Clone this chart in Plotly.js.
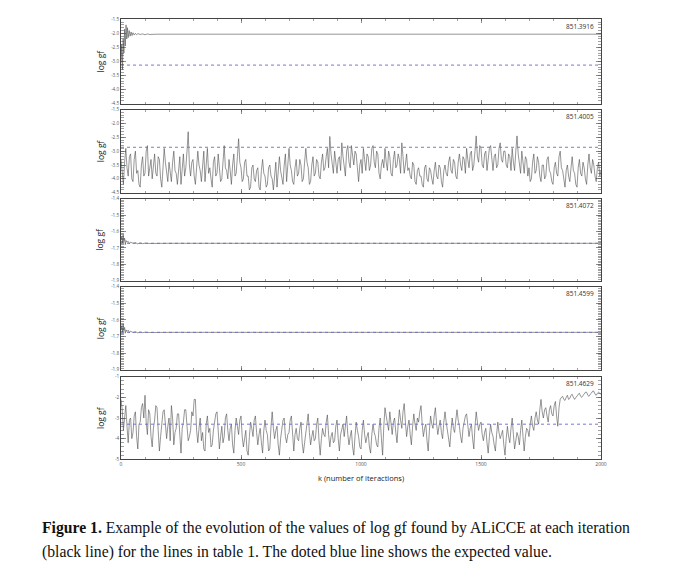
<!DOCTYPE html>
<html>
<head>
<meta charset="utf-8">
<script src="https://cdn.plot.ly/plotly-3.0.1.min.js"></script>
<style>
html,body{margin:0;padding:0;background:#fff;}
#chart{width:694px;height:584px;}
</style>
</head>
<body>
<div id="chart"></div>
<script>
// ---------- DATA ----------
const kLabels = ["0", "500", "1000", "1500", "2000"];
const kTicks = [0, 500, 1000, 1500, 2000];
const kStep = 5; // sampling step of the typed noisy series (iterations)

const lineIds = ["851.3916", "851.4005", "851.4072", "851.4599", "851.4629"];
const expected = [-3.13, -2.86, -1.672, -1.675, -3.3];

// panel 1
const p1K = [0,3,6,9,12,15,18,21,24,27,30,34,38,42,46,50,55,60,65,70,80,90,100,110,120,130,140,150,175,200,300,500,700,1000,1300,1600,2000];
const p1V = [-3.05,-2.4,-3.3,-2.2,-2.7,-1.85,-2.45,-1.7,-2.2,-1.8,-2.15,-1.9,-2.1,-1.95,-2.08,-1.98,-2.06,-2.0,-2.05,-2.01,-2.04,-2.02,-2.05,-2.02,-2.04,-2.03,-2.04,-2.03,-2.03,-2.03,-2.03,-2.03,-2.03,-2.03,-2.03,-2.03,-2.03];

// panel 2 (k = 0,5,...,2000)
const p2V = [
-3.3,-3.9,-4.2,-3.4,-2.9,-3.6,-3.9,-3.2,-3.1,-4.0,-4.1,-3.3,-3.0,-3.8,-3.7,-4.2,-4.3,-3.5,-3.2,-3.9,
-3.8,-3.0,-2.8,-3.9,-3.6,-3.3,-4.0,-3.5,-3.1,-3.8,-3.9,-3.2,-3.3,-4.0,-4.3,-3.6,-2.9,-3.4,-3.7,-4.1,
-3.4,-3.8,-4.1,-3.4,-3.0,-3.7,-3.8,-4.2,-3.5,-3.2,-4.2,-3.7,-3.1,-3.9,-3.6,-3.0,-2.3,-3.5,-3.9,-3.4,
-3.3,-3.9,-4.2,-3.6,-3.0,-3.5,-3.7,-4.1,-3.4,-3.0,-4.1,-3.5,-2.9,-3.8,-3.6,-4.0,-4.3,-3.4,-3.2,-3.9,
-3.8,-3.1,-3.5,-4.1,-4.0,-3.3,-2.8,-3.6,-3.7,-4.0,-3.3,-3.7,-4.2,-3.5,-3.1,-3.9,-3.8,-3.2,-2.55,-3.4,
-3.6,-4.1,-4.0,-3.4,-3.3,-3.9,-3.9,-4.4,-4.3,-3.6,-3.5,-4.0,-4.1,-3.7,-3.6,-4.3,-4.4,-3.7,-3.3,-3.8,
-3.9,-4.3,-4.2,-3.6,-3.5,-3.9,-4.0,-4.4,-3.7,-3.4,-4.3,-3.8,-3.2,-3.7,-3.9,-4.2,-3.5,-3.1,-4.1,-3.6,
-2.9,-3.5,-3.7,-4.1,-4.2,-3.6,-3.3,-3.9,-3.8,-3.3,-3.5,-4.1,-4.0,-3.4,-2.9,-3.4,-3.6,-4.2,-4.1,-3.5,
-3.2,-3.9,-3.8,-3.3,-3.4,-3.9,-4.0,-3.4,-3.1,-3.7,-3.6,-3.2,-2.9,-3.6,-2.47,-3.1,-3.5,-3.8,-3.0,-3.4,
-3.8,-3.3,-3.2,-3.7,-2.7,-3.2,-3.6,-3.9,-3.0,-2.8,-3.4,-3.6,-2.8,-3.2,-3.5,-3.0,-3.1,-3.6,-4.1,-3.5,
-3.3,-3.8,-2.9,-3.3,-3.7,-3.1,-3.2,-3.7,-3.5,-2.9,-2.8,-3.4,-3.6,-3.0,-3.1,-3.8,-4.0,-3.5,-3.3,-3.6,
-2.9,-3.4,-3.7,-3.0,-3.2,-3.8,-3.9,-3.3,-3.0,-3.6,-3.5,-3.1,-3.3,-3.8,-2.7,-3.2,-3.8,-3.5,-3.1,-3.7,
-3.6,-3.9,-4.0,-3.4,-3.5,-4.1,-4.2,-3.7,-3.6,-3.9,-3.9,-4.2,-4.3,-3.6,-3.5,-4.0,-4.1,-3.6,-3.7,-4.0,
-4.2,-3.7,-3.4,-3.9,-4.0,-3.5,-3.6,-4.1,-4.3,-3.7,-3.5,-3.8,-3.9,-3.4,-3.2,-3.7,-3.8,-3.3,-3.4,-3.9,
-4.0,-3.4,-3.1,-3.5,-3.7,-3.2,-3.3,-3.8,-2.9,-3.3,-3.6,-3.1,-3.0,-3.7,-3.5,-3.0,-2.45,-3.2,-3.4,-2.8,
-2.9,-3.5,-3.6,-3.1,-3.0,-3.7,-3.3,-2.9,-2.8,-3.4,-3.7,-3.2,-3.1,-3.6,-3.5,-2.9,-2.7,-3.3,-3.4,-3.0,
-3.0,-3.5,-3.6,-3.1,-3.2,-3.7,-2.9,-3.4,-3.7,-3.0,-2.45,-3.1,-3.4,-3.8,-3.0,-3.5,-3.8,-3.2,-3.3,-3.9,
-3.6,-4.1,-4.0,-3.4,-3.1,-3.8,-3.7,-3.2,-3.4,-3.9,-4.1,-3.5,-3.5,-4.0,-3.9,-3.3,-3.2,-3.7,-3.8,-4.1,
-4.2,-3.6,-3.4,-3.8,-3.9,-3.2,-3.0,-3.6,-3.7,-4.0,-4.3,-3.7,-3.5,-3.9,-4.1,-3.6,-3.2,-3.7,-3.8,-4.2,
-4.3,-3.6,-3.3,-3.8,-3.9,-3.4,-3.6,-4.0,-4.2,-3.5,-3.1,-3.6,-3.8,-3.3,-3.5,-3.9,-4.1,-3.6,-3.4,-3.9,
-3.7];

// panel 3
const p3K = [0,3,6,9,12,15,18,21,25,30,35,40,50,60,70,80,90,100,120,150,200,500,1000,1500,2000];
const p3V = [-1.65,-1.63,-1.67,-1.62,-1.66,-1.64,-1.68,-1.655,-1.665,-1.66,-1.675,-1.665,-1.672,-1.668,-1.675,-1.67,-1.674,-1.671,-1.673,-1.672,-1.672,-1.672,-1.672,-1.672,-1.672];

// panel 4
const p4K = [0,3,6,9,12,15,18,21,25,30,35,40,50,60,70,80,90,100,120,150,200,500,1000,1500,2000];
const p4V = [-1.66,-1.635,-1.675,-1.625,-1.665,-1.645,-1.68,-1.66,-1.67,-1.662,-1.678,-1.668,-1.676,-1.671,-1.678,-1.673,-1.677,-1.674,-1.676,-1.675,-1.675,-1.675,-1.675,-1.675,-1.675];

// panel 5 (k = 0,5,...,2000)
const p5V = [
-2.1,-2.6,-3.6,-3.0,-2.4,-3.4,-4.2,-3.1,-3.0,-4.0,-3.7,-2.9,-2.7,-3.9,-4.5,-3.3,-3.2,-2.5,-2.3,-3.0,
-1.9,-3.2,-3.8,-2.6,-2.8,-3.9,-4.4,-3.5,-3.1,-2.4,-2.5,-3.6,-4.6,-3.9,-3.3,-2.7,-2.6,-3.4,-4.0,-3.4,
-3.0,-4.1,-2.4,-3.0,-4.3,-3.7,-3.5,-2.8,-2.8,-3.8,-4.7,-3.5,-3.2,-2.6,-2.6,-3.4,-4.1,-3.9,-3.6,-2.7,
-2.9,-2.1,-2.1,-3.6,-4.2,-3.5,-3.0,-4.1,-3.7,-4.5,-4.6,-3.3,-2.9,-3.7,-3.5,-4.4,-4.3,-3.6,-3.1,-2.8,
-2.7,-3.8,-4.5,-3.9,-3.4,-4.2,-3.9,-3.0,-2.8,-3.6,-4.1,-3.5,-3.3,-4.3,-4.7,-3.6,-3.0,-3.4,-3.8,-3.1,
-2.9,-3.9,-4.4,-4.0,-3.6,-4.6,-4.8,-3.9,-3.2,-3.5,-3.9,-3.1,-2.9,-3.7,-4.3,-3.8,-3.5,-4.2,-4.7,-3.6,
-3.1,-3.6,-3.8,-4.6,-4.5,-3.4,-2.7,-3.5,-4.0,-3.6,-3.4,-4.3,-4.8,-4.0,-3.6,-3.1,-3.0,-3.9,-4.2,-3.8,
-3.7,-3.1,-2.9,-3.9,-4.6,-3.8,-3.5,-4.0,-4.1,-3.5,-3.2,-4.2,-4.7,-4.2,-3.8,-3.2,-2.8,-3.7,-4.3,-3.9,
-3.6,-4.1,-4.0,-3.3,-3.0,-4.1,-4.8,-4.0,-3.5,-3.8,-3.9,-3.2,-2.85,-3.8,-4.4,-3.9,-3.7,-4.2,-4.1,-3.4,
-3.1,-4.0,-4.6,-3.8,-3.5,-3.3,-3.9,-3.3,-2.9,-3.8,-4.3,-3.9,-3.6,-4.4,-4.8,-3.9,-3.2,-3.6,-3.9,-4.4,
-4.5,-3.6,-3.1,-3.8,-4.2,-3.9,-3.7,-4.4,-4.7,-3.8,-3.3,-3.7,-3.9,-4.3,-4.4,-3.5,-3.0,-4.0,-4.8,-3.4,
-2.5,-2.9,-3.2,-3.6,-2.7,-3.3,-3.8,-3.2,-3.0,-3.7,-4.2,-3.3,-2.6,-3.1,-3.5,-2.7,-2.3,-3.2,-3.9,-3.4,
-3.1,-3.8,-4.3,-3.4,-2.8,-3.3,-3.6,-3.0,-3.2,-2.7,-2.4,-3.3,-3.9,-3.5,-3.3,-4.1,-4.6,-3.6,-2.9,-3.3,
-3.5,-2.9,-2.5,-3.3,-3.8,-3.4,-3.1,-3.7,-4.0,-3.2,-2.7,-3.2,-3.6,-4.1,-4.4,-3.6,-3.0,-3.5,-3.7,-3.1,
-2.6,-3.1,-3.4,-3.9,-4.2,-3.5,-3.1,-2.9,-2.8,-3.5,-3.9,-3.5,-3.3,-4.0,-4.5,-3.4,-2.7,-3.2,-3.6,-3.3,
-3.2,-3.8,-4.1,-3.7,-3.5,-4.2,-4.7,-3.9,-3.3,-3.7,-3.9,-4.3,-4.6,-3.8,-3.2,-3.7,-4.0,-3.8,-3.6,-4.3,
-4.8,-4.0,-3.4,-3.9,-4.2,-3.5,-3.0,-3.8,-4.5,-4.1,-3.7,-3.9,-4.3,-3.6,-3.1,-3.9,-4.6,-3.9,-3.5,-3.6,
-3.9,-3.3,-2.9,-3.4,-3.6,-3.0,-2.7,-3.1,-3.3,-2.6,-2.1,-2.7,-3.0,-2.6,-2.5,-2.9,-3.2,-2.6,-2.4,-2.8,
-2.9,-2.4,-2.2,-2.9,-3.4,-2.5,-2.1,-2.0,-1.95,-2.1,-2.15,-2.0,-1.9,-2.1,-2.05,-1.9,-1.85,-2.0,-2.1,-2.0,
-1.95,-1.85,-1.8,-1.95,-2.0,-1.9,-1.85,-1.75,-1.75,-1.9,-1.95,-1.85,-1.8,-1.7,-1.7,-1.85,-1.9,-1.8,-1.75,-1.8,
-1.85];

// y tick values/labels per panel
const yTicks = [
  [-4.5,-4.0,-3.5,-3.0,-2.5,-2.0,-1.5],
  [-4.5,-4.0,-3.5,-3.0,-2.5,-2.0,-1.5],
  [-1.9,-1.8,-1.7,-1.6,-1.5,-1.4],
  [-1.9,-1.8,-1.7,-1.6,-1.5,-1.4],
  [-5,-4,-3,-2,-1]
];
const yLabels = [
  ["-4.5","-4.0","-3.5","-3.0","-2.5","-2.0","-1.5"],
  ["-4.5","-4.0","-3.5","-3.0","-2.5","-2.0","-1.5"],
  ["-1.9","-1.8","-1.7","-1.6","-1.5","-1.4"],
  ["-1.9","-1.8","-1.7","-1.6","-1.5","-1.4"],
  ["-5","-4","-3","-2","-1"]
];
const yRanges = [[-4.5,-1.5],[-4.5,-1.5],[-1.9,-1.4],[-1.9,-1.4],[-5,-1]];
const yMinor = [0.1, 0.1, 0.01, 0.01, 0.2];

// ---------- LAYOUT GEOMETRY (pixels) ----------
const W = 694, H = 584;
const plotL = 121, plotR = 601;
const panelPx = [[19.3,103.6],[109.6,192.7],[198.7,280.7],[286.7,369.7],[376.7,459.3]];

const lineCol = '#4f4f4f';
const dotCol = '#6a6ad0';
const axCol = '#444';

const traces = [];
const series = [
  {x: p1K, y: p1V},
  {x0: 0, dx: kStep, y: p2V},
  {x: p3K, y: p3V},
  {x: p4K, y: p4V},
  {x0: 0, dx: kStep, y: p5V}
];
series.forEach((s, i) => {
  const n = i + 1;
  const xa = n === 1 ? 'x' : 'x' + n;
  const ya = n === 1 ? 'y' : 'y' + n;
  traces.push(Object.assign({
    type: 'scatter', mode: 'lines', xaxis: xa, yaxis: ya,
    line: {color: lineCol, width: 0.6}, hoverinfo: 'skip', showlegend: false
  }, s));
  traces.push({
    type: 'scatter', mode: 'lines', xaxis: xa, yaxis: ya,
    x: [kTicks[0], kTicks[kTicks.length - 1]], y: [expected[i], expected[i]],
    line: {color: dotCol, width: 0.9, dash: 'dot'}, hoverinfo: 'skip', showlegend: false
  });
});

const layout = {
  width: W, height: H,
  margin: {l: 0, r: 0, t: 0, b: 0},
  paper_bgcolor: '#fff', plot_bgcolor: '#fff',
  showlegend: false,
  annotations: [],
  font: {family: 'Open Sans, DejaVu Sans, sans-serif', color: '#444'}
};

panelPx.forEach((p, i) => {
  const n = i + 1;
  const xk = n === 1 ? 'xaxis' : 'xaxis' + n;
  const yk = n === 1 ? 'yaxis' : 'yaxis' + n;
  const ya = n === 1 ? 'y' : 'y' + n;
  const xa = n === 1 ? 'x' : 'x' + n;
  layout[xk] = {
    domain: [plotL / W, plotR / W], range: [0, 2000], anchor: ya,
    showgrid: false, zeroline: false, showline: true, linecolor: axCol, linewidth: 1,
    mirror: 'ticks', ticks: 'inside', ticklen: 4, tickwidth: 0.6, tickcolor: axCol,
    tickmode: 'array', tickvals: kTicks, ticktext: kLabels,
    showticklabels: n === 5,
    tickfont: {size: 5, color: '#555', family: 'Open Sans, sans-serif'},
    minor: {dtick: 100, ticks: 'inside', ticklen: 2, tickwidth: 0.5, tickcolor: axCol, showgrid: false}
  };
  layout[yk] = {
    domain: [1 - p[1] / H, 1 - p[0] / H], range: yRanges[i], anchor: xa,
    showgrid: false, zeroline: false, showline: true, linecolor: axCol, linewidth: 1,
    mirror: 'ticks', ticks: 'inside', ticklen: 5, tickwidth: 0.6, tickcolor: axCol,
    tickmode: 'array', tickvals: yTicks[i], ticktext: yLabels[i],
    tickfont: {size: 4.6, color: '#555', family: 'Open Sans, sans-serif'},
    minor: {dtick: yMinor[i], tick0: 0, ticks: 'inside', ticklen: 3, tickwidth: 0.5, tickcolor: axCol, showgrid: false}
  };
  layout.annotations.push({
    xref: 'paper', yref: 'paper', x: 596 / W, y: 1 - (p[0] + 7) / H,
    xanchor: 'right', yanchor: 'middle', showarrow: false,
    text: lineIds[i], font: {size: 6.5, color: '#333', family: 'Open Sans, sans-serif'}
  });
  layout.annotations.push({
    xref: 'paper', yref: 'paper', x: 100 / W, y: 1 - ((p[0] + p[1]) / 2) / H,
    xanchor: 'center', yanchor: 'middle', showarrow: false, textangle: -90,
    text: 'log gf', font: {size: 8.5, color: '#222', family: 'Open Sans, sans-serif'}
  });
});

layout.annotations.push({
  xref: 'paper', yref: 'paper', x: 361 / W, y: 1 - 478 / H,
  xanchor: 'center', yanchor: 'middle', showarrow: false,
  text: 'k (number of iteractions)', font: {size: 7.5, color: '#222', family: 'Open Sans, sans-serif'}
});
layout.annotations.push({
  xref: 'paper', yref: 'paper', x: 40 / W, y: 1 - 528 / H,
  xanchor: 'left', yanchor: 'middle', showarrow: false, align: 'left',
  text: '<b>Figure 1.</b> Example of the evolution of the values of log gf found by ALiCCE at each iteration',
  font: {size: 15.7, color: '#111', family: 'Liberation Serif, Times New Roman, serif'}
});
layout.annotations.push({
  xref: 'paper', yref: 'paper', x: 40 / W, y: 1 - 552 / H,
  xanchor: 'left', yanchor: 'middle', showarrow: false, align: 'left',
  text: '(black line) for the lines in table 1. The doted blue line shows the expected value.',
  font: {size: 15.7, color: '#111', family: 'Liberation Serif, Times New Roman, serif'}
});

Plotly.newPlot('chart', traces, layout, {staticPlot: true, displayModeBar: false});
</script>
</body>
</html>
